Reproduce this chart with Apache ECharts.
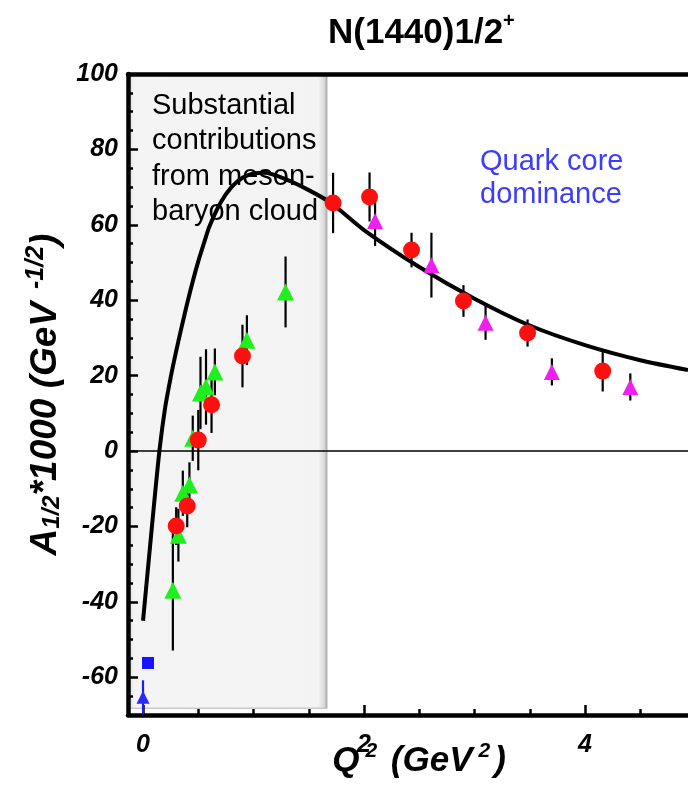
<!DOCTYPE html>
<html><head><meta charset="utf-8">
<script src="https://cdn.jsdelivr.net/npm/echarts@6/dist/echarts.min.js"></script>
<style>html,body{margin:0;padding:0;background:#fff}#c{width:688px;height:787px}</style>
</head><body><div id="c"></div>
<script>
// ---- data ----
const curveQ2 = [0, 0.05, 0.1, 0.15, 0.2, 0.25, 0.3, 0.35, 0.4, 0.45, 0.5, 0.55, 0.6, 0.7, 0.8, 0.9, 1.0, 1.1, 1.3, 1.5, 1.7, 2.0, 2.5, 3.0, 3.5, 4.0, 4.5, 4.932];
const curveA  = [-45, -29.5, -14, 0.5, 11.5, 19.5, 26.5, 33, 39.2, 45, 50.3, 55, 59.5, 65.8, 70, 72.5, 73.6, 73.8, 72, 69.2, 65.8, 58.6, 48.8, 40.4, 33.3, 28.1, 24.1, 21.5];

const redQ2  = [0.30, 0.40, 0.50, 0.62, 0.90, 1.72, 2.05, 2.43, 2.90, 3.48, 4.16];
const redA   = [-19.9, -14.6, 2.9, 12.3, 25.2, 65.8, 67.4, 53.3, 39.8, 31.3, 21.2];
const redErr = [5, 5.6, 8, 7.5, 8.3, 8, 6.5, 4.6, 4.2, 3.6, 5.4];

const greenQ2  = [0.27, 0.32, 0.36, 0.42, 0.45, 0.52, 0.57, 0.65, 0.94, 1.29];
const greenA   = [-36.9, -22.3, -11.2, -9, 3.4, 15.4, 17, 21, 29.4, 42.2];
const greenErr = [16, 7, 6, 6, 6, 9.6, 10, 6.2, 6.6, 9.4];

const magentaQ2  = [2.10, 2.61, 3.10, 3.70, 4.41];
const magentaA   = [61, 49.3, 34, 21, 17];
const magentaErr = [6.6, 8.6, 4.5, 3.6, 3.6];

const blueSquareQ2 = [0.045];
const blueSquareA  = [-56.2];
const blueTriQ2  = [0];
const blueTriA   = [-65.3];
const blueTriErr = [4.5];

const xLabelTicks = [0, 2, 4];
const xMinorTicks = [0, 0.5, 1, 1.5, 2, 2.5, 3, 3.5, 4, 4.5];
const yLabelTicks = [-60, -40, -20, 0, 20, 40, 60, 80, 100];
const yMinorTicks = [-65, -55, -50, -45, -35, -30, -25, -15, -10, -5, 5, 10, 15, 25, 30, 35, 45, 50, 55, 65, 70, 75, 85, 90, 95];

const shadeQ2 = [-0.163, 1.665];
const shadeA  = [-68.2, 100.5];
const xRange = [-0.136, 4.932];
const yRange = [-70, 100];

// ---- chart ----
const FONT = '"Liberation Sans", Arial, Helvetica, sans-serif';
const chart = echarts.init(document.getElementById('c'), null, {renderer: 'canvas'});

function errBars(q, a, e, color) {
  return {
    type: 'custom', z: 210, clip: true,
    data: q.map((x, i) => [x, a[i] - e[i], a[i] + e[i]]),
    encode: {x: 0, y: [1, 2]},
    renderItem: (params, api) => {
      const p1 = api.coord([api.value(0), api.value(1)]);
      const p2 = api.coord([api.value(0), api.value(2)]);
      return {type: 'line', shape: {x1: p1[0], y1: p1[1], x2: p2[0], y2: p2[1]},
              style: {stroke: color, lineWidth: 2.2}};
    }
  };
}
function pts(q, a, symbol, size, color) {
  return {type: 'scatter', z: 220, symbol: symbol, symbolSize: size, clip: false,
          itemStyle: {color: color, opacity: 1},
          data: q.map((x, i) => [x, a[i]])};
}

const tickLabelStyle = {fontFamily: FONT, fontSize: 25, fontWeight: 'bold', fontStyle: 'italic', color: '#000'};
const noZeroLine = (w) => ({onZero: false, lineStyle: {color: '#000', width: w}});

const option = {
  animation: false,
  backgroundColor: '#fff',
  title: {
    text: '{a|N(1440)1/2}{s|+}',
    left: 323, top: 6,
    textStyle: {rich: {
      a: {fontFamily: FONT, fontSize: 35, fontWeight: 'bold', color: '#000', lineHeight: 40, verticalAlign: 'bottom'},
      s: {fontFamily: FONT, fontSize: 20, fontWeight: 'bold', color: '#000', lineHeight: 24, verticalAlign: 'top'}
    }}
  },
  grid: {left: 128, right: 0, top: 74, bottom: 72, outerBoundsMode: 'none', containLabel: false},
  xAxis: [
    {type: 'value', min: xRange[0], max: xRange[1], position: 'bottom', z: 5,
     axisLine: noZeroLine(4.5),
     axisTick: {inside: true, length: 10, customValues: xLabelTicks, lineStyle: {color: '#000', width: 2.5}},
     axisLabel: {customValues: xLabelTicks, margin: 18, ...tickLabelStyle},
     splitLine: {show: false},
     name: '{q|Q}{s|2}{t| (GeV}{s|2}{t|)}',
     nameLocation: 'middle', nameGap: 26, nameMoveOverlap: false,
     nameTextStyle: {padding: [0, 0, 0, 22], rich: {
       q: {fontFamily: FONT, fontSize: 35, fontWeight: 'bold', fontStyle: 'italic', color: '#000', lineHeight: 38, verticalAlign: 'bottom'},
       t: {fontFamily: FONT, fontSize: 35, fontWeight: 'bold', fontStyle: 'italic', color: '#000', lineHeight: 38, verticalAlign: 'bottom'},
       s: {fontFamily: FONT, fontSize: 21, fontWeight: 'bold', fontStyle: 'italic', color: '#000', lineHeight: 22, verticalAlign: 'top', padding: [0, 4, 0, 6]}
     }}},
    {type: 'value', min: xRange[0], max: xRange[1], position: 'bottom', z: 5,
     axisLine: {show: false, onZero: false},
     axisTick: {inside: true, length: 6, customValues: xMinorTicks, lineStyle: {color: '#000', width: 2.5}},
     axisLabel: {show: false}, splitLine: {show: false}},
    {type: 'value', min: xRange[0], max: xRange[1], position: 'top', z: 5,
     axisLine: noZeroLine(4.5),
     axisTick: {show: false}, axisLabel: {show: false}, splitLine: {show: false}}
  ],
  yAxis: [
    {type: 'value', min: yRange[0], max: yRange[1], position: 'left', z: 5,
     axisLine: noZeroLine(4.5),
     axisTick: {inside: true, length: 10, customValues: yLabelTicks, lineStyle: {color: '#000', width: 2.5}},
     axisLabel: {customValues: yLabelTicks, margin: 10, ...tickLabelStyle},
     splitLine: {show: false},
     name: '{a|A}{b|1/2}{a|*1000 (GeV}{p| -1/2}{a|)}',
     nameLocation: 'middle', nameGap: 64, nameRotate: 90, nameMoveOverlap: false,
     nameTextStyle: {padding: [0, 0, 0, 0], rich: {
       a: {fontFamily: FONT, fontSize: 37, fontWeight: 'bold', fontStyle: 'italic', color: '#000', lineHeight: 40, verticalAlign: 'bottom'},
       b: {fontFamily: FONT, fontSize: 24, fontWeight: 'bold', fontStyle: 'italic', color: '#000', lineHeight: 16, verticalAlign: 'bottom'},
       p: {fontFamily: FONT, fontSize: 25, fontWeight: 'bold', fontStyle: 'italic', color: '#000', lineHeight: 24, verticalAlign: 'top', padding: [0, 0, 0, 6]}
     }}},
    {type: 'value', min: yRange[0], max: yRange[1], position: 'left', z: 5,
     axisLine: {show: false, onZero: false},
     axisTick: {inside: true, length: 5, customValues: yMinorTicks, lineStyle: {color: '#000', width: 2.5}},
     axisLabel: {show: false}, splitLine: {show: false}}
  ],
  graphic: [
    {type: 'text', left: 152, top: 88, z: 100,
     style: {text: 'Substantial\ncontributions\nfrom meson-\nbaryon cloud', fontFamily: FONT, fontSize: 29, lineHeight: 35.5, fill: '#000'}},
    {type: 'text', left: 480, top: 145, z: 100,
     style: {text: 'Quark core\ndominance', fontFamily: FONT, fontSize: 29, lineHeight: 33, fill: '#3c3cff'}}
  ],
  series: [
    {type: 'line', z: -10, data: [], silent: true,
     markArea: {silent: true,
       itemStyle: {
         color: new echarts.graphic.LinearGradient(0, 0, 1, 0, [
           {offset: 0, color: '#a8a8a8'}, {offset: 0.015, color: '#e6e6e6'}, {offset: 0.035, color: '#f4f4f4'},
           {offset: 0.955, color: '#f3f3f3'}, {offset: 0.985, color: '#d6d6d6'}, {offset: 1, color: '#9c9c9c'}]),
         borderColor: '#b5b5b5', borderWidth: 1},
       data: [[{xAxis: shadeQ2[0], yAxis: shadeA[0]}, {xAxis: shadeQ2[1], yAxis: shadeA[1]}]]}},
    {type: 'line', z: 200, smooth: 0.25, symbol: 'none', clip: true,
     lineStyle: {color: '#000', width: 4},
     data: curveQ2.map((x, i) => [x, curveA[i]]),
     markLine: {silent: true, symbol: 'none', label: {show: false},
       lineStyle: {color: '#000', width: 1.5, type: 'solid'},
       data: [{yAxis: 0}]}},
    errBars(redQ2, redA, redErr, '#000'),
    errBars(greenQ2, greenA, greenErr, '#000'),
    errBars(magentaQ2, magentaA, magentaErr, '#000'),
    errBars(blueTriQ2, blueTriA, blueTriErr, '#1a1aff'),
    pts(greenQ2, greenA, 'triangle', 17, '#1fef1f'),
    pts(redQ2, redA, 'circle', 17, '#ff1010'),
    pts(magentaQ2, magentaA, 'triangle', 16, '#f01ef0'),
    pts(blueSquareQ2, blueSquareA, 'rect', 12, '#1414ff'),
    pts(blueTriQ2, blueTriA, 'triangle', 13, '#2a2aff')
  ]
};
chart.setOption(option);
</script>
</body></html>
